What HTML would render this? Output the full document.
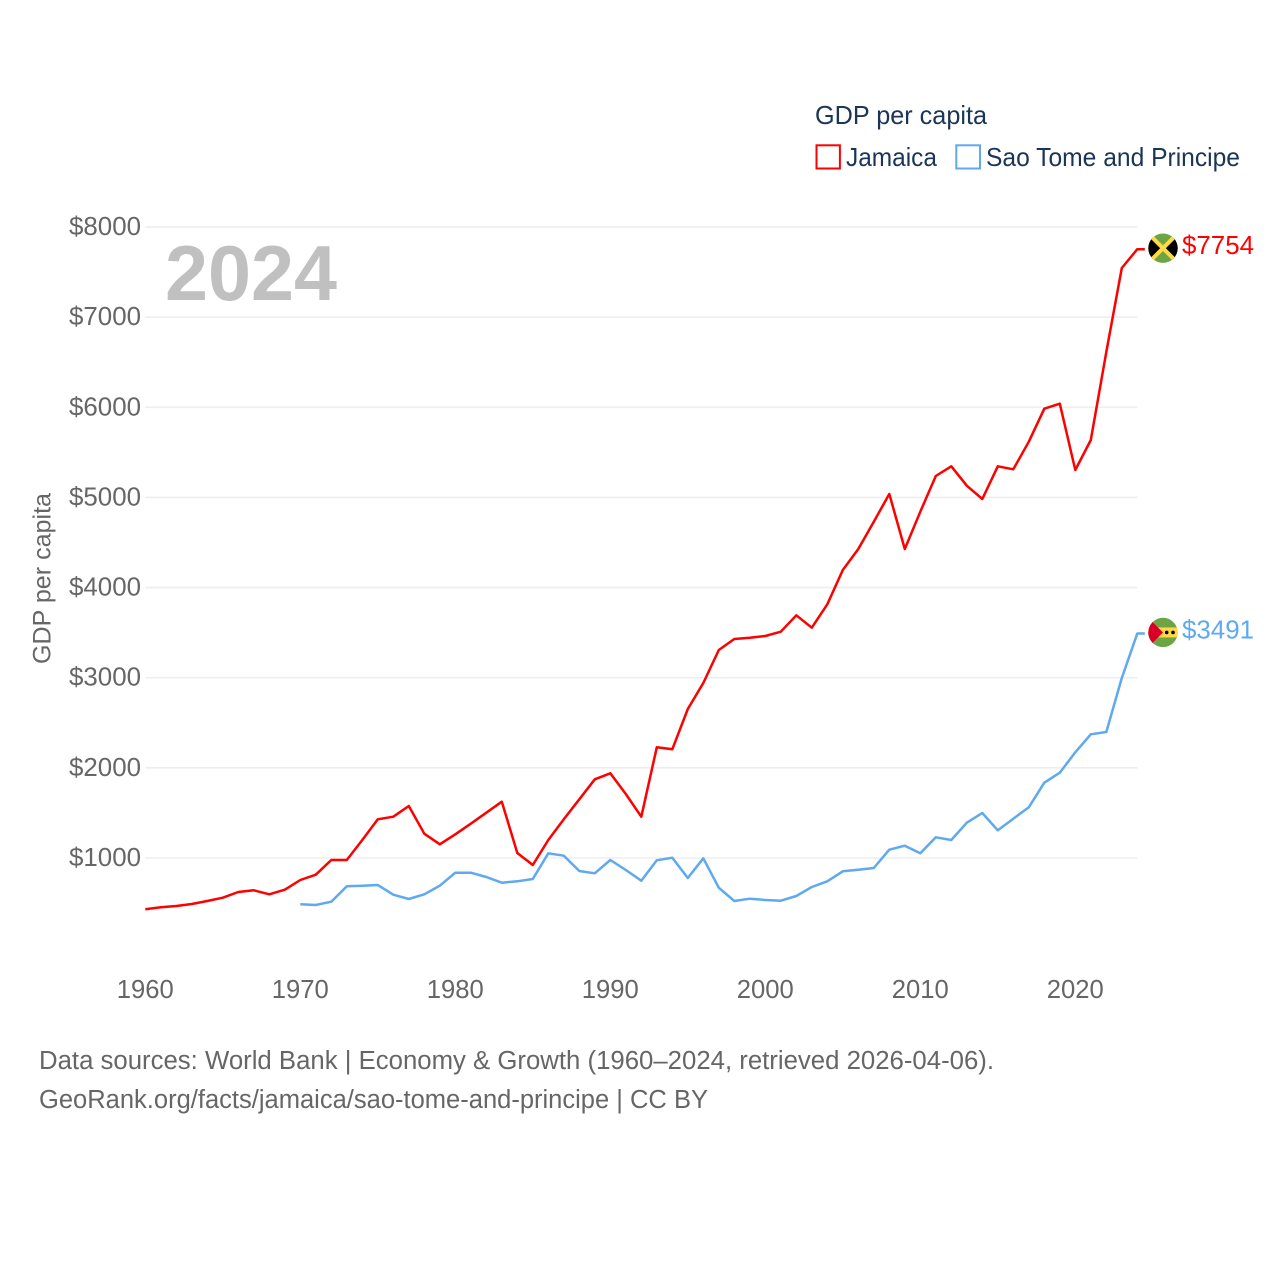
<!DOCTYPE html>
<html lang="en">
<head>
<meta charset="utf-8">
<title>GDP per capita: Jamaica and Sao Tome and Principe</title>
<style>
html,body{margin:0;padding:0;background:#fff;width:1280px;height:1280px;overflow:hidden}
svg{display:block}
text{font-family:"Liberation Sans",sans-serif}
</style>
</head>
<body>
<svg id="chart" xmlns="http://www.w3.org/2000/svg" width="1280" height="1280" viewBox="0 0 1280 1280">
  <rect x="0" y="0" width="1280" height="1280" fill="#ffffff"/>
  <g id="grid"></g>
  <text x="165" y="300" font-size="78" font-weight="700" fill="#c0c0c0" textLength="172" lengthAdjust="spacingAndGlyphs">2024</text>
  <g id="yticks"></g>
  <g id="xticks"></g>
  <text transform="translate(50.5,664) rotate(-90)" font-size="25" fill="#666666" textLength="171" lengthAdjust="spacingAndGlyphs">GDP per capita</text>
  <g id="series"></g>
  <g>
    <text x="815" y="124" font-size="26" fill="#1a3556" textLength="172" lengthAdjust="spacingAndGlyphs">GDP per capita</text>
    <g>
      <rect x="816.5" y="145.3" width="23.4" height="23.2" fill="#ffffff" stroke="#ff0000" stroke-width="2"/>
      <text x="846" y="166" font-size="26" fill="#1a3556" textLength="91" lengthAdjust="spacingAndGlyphs">Jamaica</text>
    </g>
    <g>
      <rect x="956.3" y="145.3" width="23.7" height="23.2" fill="#ffffff" stroke="#5ea9ef" stroke-width="2"/>
      <text x="986" y="166" font-size="26" fill="#1a3556" textLength="254" lengthAdjust="spacingAndGlyphs">Sao Tome and Principe</text>
    </g>
  </g>
  <g id="endmarks"></g>
  <text x="39" y="1069" font-size="25.5" fill="#666666" textLength="955" lengthAdjust="spacingAndGlyphs">Data sources: World Bank | Economy &amp; Growth (1960–2024, retrieved 2026-04-06).</text>
  <text x="39" y="1108" font-size="25.5" fill="#666666" textLength="669" lengthAdjust="spacingAndGlyphs">GeoRank.org/facts/jamaica/sao-tome-and-principe | CC BY</text>
</svg>
<script>
var yTickValues = [1000, 2000, 3000, 4000, 5000, 6000, 7000, 8000];
var xTickValues = [1960, 1970, 1980, 1990, 2000, 2010, 2020];
var jamaicaStartYear = 1960;
var jamaicaValues = [431,453,467,490,523,560,623,642,597,648,756,815,978,978,1200,1429,1458,1577,1270,1152,1263,1380,1503,1625,1055,922,1200,1429,1651,1873,1940,1710,1458,2228,2206,2653,2941,3308,3430,3444,3463,3511,3692,3555,3815,4195,4428,4731,5038,4428,4842,5238,5346,5130,4983,5346,5312,5618,5985,6040,5304,5637,6614,7545,7754];
var saoTomeStartYear = 1970;
var saoTomeValues = [486,479,515,686,693,700,593,545,597,693,837,837,789,726,742,767,1052,1026,856,830,978,867,748,974,1003,778,997,671,523,548,534,526,578,678,742,852,870,889,1092,1136,1052,1230,1200,1392,1499,1307,1436,1562,1835,1946,2173,2372,2398,2997,3491];

var SVGNS = 'http://www.w3.org/2000/svg';
function xScale(year) { return 145.3 + (year - 1960) * 15.5; }
function yScale(value) { return 858 - (value - 1000) * 0.09014; }
function make(tag, attrs, parent) {
  var el = document.createElementNS(SVGNS, tag);
  for (var k in attrs) { el.setAttribute(k, attrs[k]); }
  parent.appendChild(el);
  return el;
}

var grid = document.getElementById('grid');
var yticks = document.getElementById('yticks');
yTickValues.forEach(function (v) {
  var line = make('line', {x1: xScale(1960), x2: xScale(2024), y1: yScale(v), y2: yScale(v), stroke: '#eeeeee', 'stroke-width': 1.6}, grid);
  
  
  var label = make('text', {x: 141, y: yScale(v) + 8, 'text-anchor': 'end', 'font-size': 25.5, fill: '#666666', textLength: 72, lengthAdjust: 'spacingAndGlyphs'}, yticks);
  
  
  label.textContent = '$' + v;
});

var xticks = document.getElementById('xticks');
xTickValues.forEach(function (yr) {
  var label = make('text', {x: xScale(yr), y: 998, 'text-anchor': 'middle', 'font-size': 25.5, fill: '#666666', textLength: 57, lengthAdjust: 'spacingAndGlyphs'}, xticks);
  
  
  label.textContent = String(yr);
});

function pointsFor(values, startYear) {
  var pts = values.map(function (v, i) {
    return xScale(startYear + i).toFixed(1) + ',' + yScale(v).toFixed(1);
  });
  var last = values[values.length - 1];
  pts.push((xScale(startYear + values.length - 1) + 7.5).toFixed(1) + ',' + yScale(last).toFixed(1));
  return pts.join(' ');
}

var series = document.getElementById('series');
var jamaicaLine = make('polyline', {points: pointsFor(jamaicaValues, jamaicaStartYear), fill: 'none', stroke: '#ff0000', 'stroke-width': 2.5, 'stroke-linejoin': 'round'}, series);


var saoTomeLine = make('polyline', {points: pointsFor(saoTomeValues, saoTomeStartYear), fill: 'none', stroke: '#5ea9ef', 'stroke-width': 2.5, 'stroke-linejoin': 'round'}, series);



var endmarks = document.getElementById('endmarks');
var defs = make('defs', {}, endmarks);
function addClip(id, cy) {
  var clip = make('clipPath', {id: id}, defs);
  make('circle', {cx: 1163, cy: cy, r: 14.7}, clip);
}

function addLabel(value, color, name) {
  var label = make('text', {x: 1182, y: yScale(value) + 5, 'font-size': 25.5, fill: color, textLength: 72, lengthAdjust: 'spacingAndGlyphs'}, endmarks);
  
  
  label.textContent = '$' + value;
}

var jLast = jamaicaValues[jamaicaValues.length - 1];
var jy = yScale(jLast) - 1;
addClip('clip-jm', jy);
var jm = make('g', {'clip-path': 'url(#clip-jm)'}, endmarks);


make('rect', {x: 1148, y: jy - 15, width: 30, height: 30, fill: '#6da544'}, jm);
make('polygon', {points: '1148,' + (jy - 15) + ' 1163,' + jy + ' 1148,' + (jy + 15), fill: '#000000'}, jm);
make('polygon', {points: '1178,' + (jy - 15) + ' 1163,' + jy + ' 1178,' + (jy + 15), fill: '#000000'}, jm);
make('line', {x1: 1150, y1: jy - 13, x2: 1176, y2: jy + 13, stroke: '#ffda44', 'stroke-width': 4}, jm);
make('line', {x1: 1176, y1: jy - 13, x2: 1150, y2: jy + 13, stroke: '#ffda44', 'stroke-width': 4}, jm);
addLabel(jLast, '#ff0000', 'end-value-jamaica');

var sLast = saoTomeValues[saoTomeValues.length - 1];
var sy = yScale(sLast) - 1;
addClip('clip-st', sy);
var st = make('g', {'clip-path': 'url(#clip-st)'}, endmarks);


make('rect', {x: 1148, y: sy - 15, width: 30, height: 30, fill: '#6da544'}, st);
make('rect', {x: 1148, y: sy - 5, width: 30, height: 10, fill: '#ffda44'}, st);
make('polygon', {points: '1148,' + (sy - 15) + ' 1163,' + sy + ' 1148,' + (sy + 15), fill: '#d80027'}, st);
make('circle', {cx: 1166.7, cy: sy, r: 1.8, fill: '#000000'}, st);
make('circle', {cx: 1173, cy: sy, r: 1.8, fill: '#000000'}, st);
addLabel(sLast, '#5ea9ef', 'end-value-sao-tome');
</script>
</body>
</html>
